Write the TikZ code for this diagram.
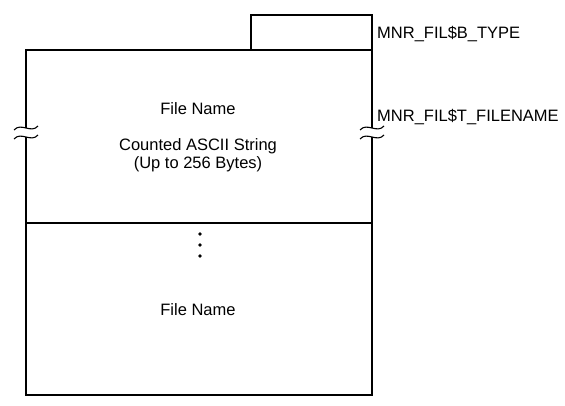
\documentclass[tikz,border=0pt]{standalone}
\usepackage{fontspec}
\setmainfont{Liberation Sans}
\usetikzlibrary{positioning}

\begin{document}
\begin{tikzpicture}[x=1pt, y=-1pt]
	\tikzset{typebox/.style = {draw, line width=1.5pt, minimum width=121pt, minimum height=35pt, inner sep=0pt}}
	\tikzset{wall/.style = {line width=1.5pt}}
	\tikzset{wave/.style = {line width=1.1pt}}
	\tikzset{txt/.style = {font=\fontsize{16.5}{19}\selectfont, inner sep=0pt, anchor=base}}
	\useasboundingbox (0, 0) rectangle (565, 405);
	% header byte
	\node[typebox] (type) at (311.5, 32.5) {};
	% outline of the block
	\coordinate (tl) at (26, 50);
	\coordinate (tr) at (372, 50);
	\coordinate (ml) at (26, 223);
	\coordinate (mr) at (372, 223);
	\coordinate (bl) at (26, 395);
	\coordinate (br) at (372, 395);
	\draw[wall] (26, 128) -- (tl) -- (tr) -- (372, 128);
	\draw[wall] (26, 137) -- (bl) -- (br) -- (372, 137);
	\draw[wall] (ml) -- (mr);
	\foreach \x in {26, 372}
		\foreach \y in {128, 137}
			\draw[wave] (\x-12, \y+2) .. controls (\x-5, \y-6) and (\x+5, \y+6) .. (\x+12, \y-2);
	% texts
	\node[txt] (name) at (198, 114) {File Name};
	\node[txt] (ascic) at (198, 150) {Counted ASCII String};
	\node[txt] (size) at (198, 168) {(Up to 256 Bytes)};
	\foreach \y in {234, 245, 256}
		\fill (200, \y) circle (1.8pt);
	\node[txt] (lastname) at (198, 315) {File Name};
	\node[txt, anchor=base west] (btype) at (377, 38) {MNR\_FIL\$B\_TYPE};
	\node[txt, anchor=base west] (tname) at (377, 121) {MNR\_FIL\$T\_FILENAME};
\end{tikzpicture}
\end{document}
